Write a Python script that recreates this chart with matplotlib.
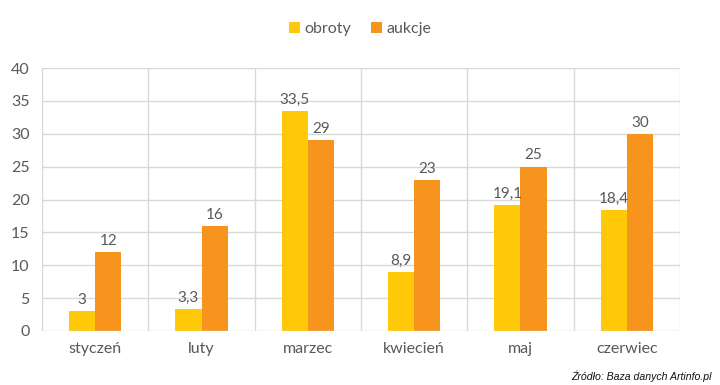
import numpy as np
import matplotlib
matplotlib.use("Agg")
import matplotlib.pyplot as plt

months = ["styczeń", "luty", "marzec", "kwiecień", "maj", "czerwiec"]
obroty = [3, 3.3, 33.5, 8.9, 19.1, 18.4]
aukcje = [12, 16, 29, 23, 25, 30]

col_obroty = "#FFC90A"
col_aukcje = "#F7941E"
txt = "#595959"
grid = "#D9D9D9"

plt.rcParams["font.family"] = ["Lato", "DejaVu Sans"]

fig = plt.figure(figsize=(7.2, 3.85), dpi=100)
ax = fig.add_axes([42 / 720, 1 - 331 / 385, 638 / 720, 263 / 385])

x = np.arange(len(months))
w = 0.245
b1 = ax.bar(x - w / 2, obroty, w, color=col_obroty, label="obroty", zorder=3)
b2 = ax.bar(x + w / 2, aukcje, w, color=col_aukcje, label="aukcje", zorder=3)

def fmt(v):
    return f"{v:g}".replace(".", ",")

for bars, vals in ((b1, obroty), (b2, aukcje)):
    for bar, v in zip(bars, vals):
        ax.annotate(fmt(v), (bar.get_x() + bar.get_width() / 2, v),
                    xytext=(0, 3), textcoords="offset points",
                    ha="center", va="bottom", fontsize=11, color=txt)

ax.set_xlim(-0.5, len(months) - 0.5)
ax.set_ylim(0, 40)
ax.set_yticks(range(0, 41, 5))
ax.set_xticks(x)
ax.set_xticklabels(months)
ax.tick_params(axis="both", length=0, labelsize=11.5, colors=txt)
ax.tick_params(axis="x", pad=8)
ax.tick_params(axis="y", pad=9)

for y in range(5, 41, 5):
    ax.axhline(y, color=grid, lw=1, zorder=1)
for xb in np.arange(-0.5, len(months), 1.0):
    ax.axvline(xb, color=grid, lw=1, zorder=1)
for s in ax.spines.values():
    s.set_visible(False)
ax.axhline(0, color=grid, lw=1, zorder=4)

fig.legend(loc="center", bbox_to_anchor=(0.5, 1 - 29 / 385), ncol=2, frameon=False,
           fontsize=11.5, handlelength=0.7, handleheight=0.7, handletextpad=0.3,
           columnspacing=1.2, labelcolor=txt)

fig.text(712 / 720, 1 - 376 / 385, "Źródło: Baza danych Artinfo.pl", ha="right", va="center",
         fontsize=7.6, style="italic", family=["Liberation Sans", "DejaVu Sans"], color="#111111")

fig.savefig("out.png", dpi=100)
